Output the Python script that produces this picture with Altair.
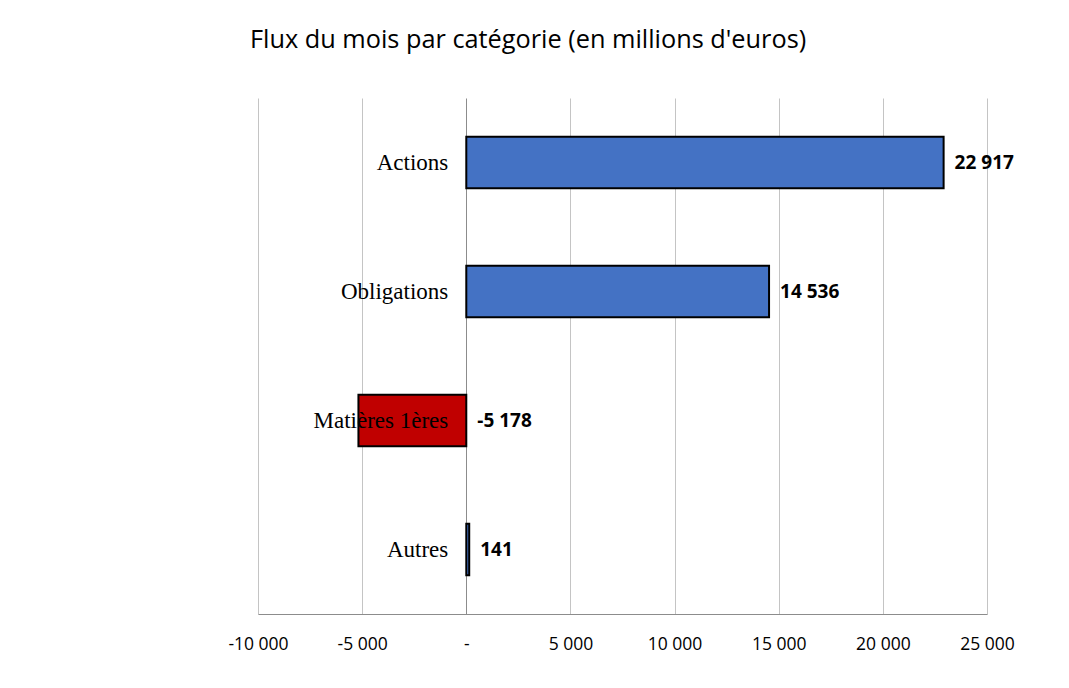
import altair as alt
import pandas as pd

categories = ["Actions", "Obligations", "Matières 1ères", "Autres"]
values = [22917, 14536, -5178, 141]
value_labels = ["22 917", "14 536", "-5 178", "141"]
tick_values = [-10000, -5000, 0, 5000, 10000, 15000, 20000, 25000]

df = pd.DataFrame({"cat": categories, "val": values, "lab": value_labels})

x_scale = alt.Scale(domain=[-10000, 25000], nice=False, zero=False)
y_scale = alt.Scale(domain=categories, paddingInner=0.6, paddingOuter=0.3)

base = alt.Chart(df).encode(
    y=alt.Y("cat:N", scale=y_scale, axis=None, sort=categories)
)

bars = base.mark_bar(stroke="black", strokeWidth=2).encode(
    x=alt.X(
        "val:Q",
        scale=x_scale,
        axis=alt.Axis(
            values=tick_values,
            title=None,
            grid=True,
            gridColor=alt.condition("datum.value == 0", alt.value("#8c8c8c"), alt.value("#c4c4c4")),
            gridWidth=1,
            domainColor="#8c8c8c",
            domainWidth=1,
            ticks=False,
            labelFont="Open Sans",
            labelFontSize=17.5,
            labelColor="black",
            labelPadding=21,
            labelFlush=False,
            labelOverlap=False,
            labelBound=False,
            labelExpr="datum.value == 0 ? '-' : replace(replace(format(datum.value, ','), regexp(',', 'g'), ' '), '\u2212', '-')",
        ),
    ),
    x2=alt.datum(0),
    color=alt.condition("datum.val < 0", alt.value("#C00000"), alt.value("#4472C4")),
)

cat_text = base.mark_text(
    align="right", baseline="middle", dx=-18, font="Liberation Serif", fontSize=23, color="black"
).encode(x=alt.datum(0), text="cat:N")

val_text = base.mark_text(
    align="left", baseline="middle", dx=11, font="Open Sans", fontSize=19, fontWeight="bold", color="black"
).transform_calculate(pos="max(datum.val, 0)").encode(
    x=alt.X("pos:Q", scale=x_scale), text="lab:N"
)

chart = (
    alt.layer(bars, cat_text, val_text)
    .properties(
        width=729,
        height=516,
        autosize=alt.AutoSizeParams(type="none"),
        padding={"left": 250, "top": 90, "right": 60, "bottom": 50},
        title=alt.TitleParams(
            "Flux du mois par catégorie (en millions d'euros)",
            anchor="start",
            frame="group",
            dx=-8,
            offset=45,
            font="Open Sans",
            fontSize=25.3,
            fontWeight="normal",
            color="black",
        ),
    )
    .configure_view(stroke=None)
)

chart.save("out.html", embed_options={"renderer": "svg", "actions": False})
